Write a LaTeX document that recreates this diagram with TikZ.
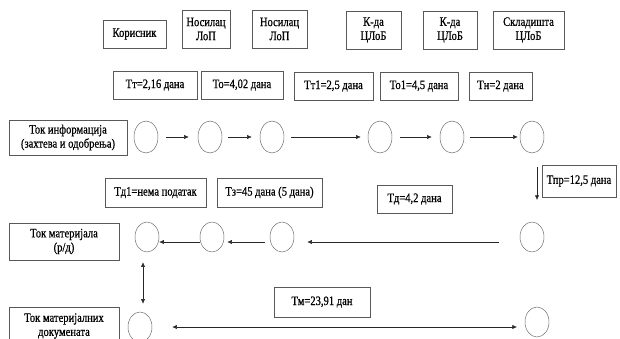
\documentclass[tikz,border=0pt]{standalone}
\usepackage{fontspec}
\setmainfont{Liberation Serif}[FakeStretch=0.82,FakeBold=0.6]
\usetikzlibrary{shapes.geometric,arrows.meta}

\begin{document}
\begin{tikzpicture}[x=0.03cm,y=-0.03cm,
  every node/.style={align=center,font=\fontsize{11}{12}\selectfont},
  box/.style={draw=black!65,inner sep=1pt},
  ring/.style={draw=black!60,ellipse,minimum width=0.72cm,minimum height=0.9cm,inner sep=0pt},
  flow/.style={-{Latex[length=4pt,width=3.5pt]},black!85},
  both/.style={{Latex[length=4pt,width=3.5pt]}-{Latex[length=4pt,width=3.5pt]},black!85}]
  \useasboundingbox (0,0) rectangle (620,338);
  % actors
  \node[box,minimum width=1.89cm,minimum height=0.84cm] (korisnik) at (134.5,34) {Корисник};
  \node[box,minimum width=1.44cm,minimum height=1.14cm] (nosilac1) at (206,29) {Носилац\\ЛоП};
  \node[box,minimum width=1.65cm,minimum height=1.14cm] (nosilac2) at (279.5,29) {Носилац\\ЛоП};
  \node[box,minimum width=1.65cm,minimum height=1.14cm] (komanda1) at (373.5,30) {К-да\\ЦЛоБ};
  \node[box,minimum width=1.62cm,minimum height=1.14cm] (komanda2) at (450,30) {К-да\\ЦЛоБ};
  \node[box,minimum width=2.13cm,minimum height=1.14cm] (skladiste) at (528.5,30) {Складишта\\ЦЛоБ};
  % times
  \node[box,minimum width=2.52cm,minimum height=0.84cm] (tt) at (155,85) {Тт=2,16 дана};
  \node[box,minimum width=2.46cm,minimum height=0.84cm] (to) at (242,85) {То=4,02 дана};
  \node[box,minimum width=2.37cm,minimum height=0.84cm] (tt1) at (333.5,86) {Тт1=2,5 дана};
  \node[box,minimum width=2.34cm,minimum height=0.84cm] (to1) at (419,86) {То1=4,5 дана};
  \node[box,minimum width=1.89cm,minimum height=0.84cm] (tn) at (500.5,86) {Тн=2 дана};
  % information flow
  \node[box,minimum width=3.54cm,minimum height=1.05cm] (info) at (68,137.5) {Ток информација\\(захтева и одобрења)};
  \foreach \n/\x in {1/146,2/210,3/272,4/380,5/452,6/532}
    \node[ring,minimum height=0.96cm] (i\n) at (\x,137) {};
  \draw[flow,shorten <=0.24cm,shorten >=0.27cm] (i1) -- (i2);
  \draw[flow,shorten <=0.18cm,shorten >=0.24cm] (i2) -- (i3);
  \draw[flow,shorten <=0.21cm,shorten >=0.21cm] (i3) -- (i4);
  \draw[flow,shorten <=0.24cm,shorten >=0.24cm] (i4) -- (i5);
  \draw[flow,shorten <=0.18cm,shorten >=0.06cm] (i5) -- (i6);
  \node[box,minimum width=3.03cm,minimum height=0.87cm] (td1) at (155.5,192.5) {Тд1=нема податак};
  \node[box,minimum width=3.15cm,minimum height=0.87cm] (tz) at (269.5,192.5) {Тз=45 дана (5 дана)};
  \node[box,minimum width=2.25cm,minimum height=0.84cm] (td) at (414.5,199) {Тд=4,2 дана};
  \node[box,minimum width=2.22cm,minimum height=0.96cm] (tpr) at (579,181) {Тпр=12,5 дана};
  \coordinate (down1) at (537,167);
  \coordinate (down2) at (537,200);
  \draw[flow] (down1) -- (down2);
  % material flow
  \node[box,minimum width=3.3cm,minimum height=1.11cm] (mat) at (64,241.5) {Ток материјала\\(р/д)};
  \foreach \n/\x in {1/147,2/212,3/282,4/532}
    \node[ring] (m\n) at (\x,237) {};
  \draw[flow] ([yshift=-0.15cm]m2.west) -- ([yshift=-0.15cm]m1.east);
  \draw[flow,shorten <=0.15cm,shorten >=0.09cm] ([yshift=-0.15cm]m3.west) -- ([yshift=-0.15cm]m2.east);
  \draw[flow,shorten <=0.63cm,shorten >=0.39cm] ([yshift=-0.15cm]m4.west) -- ([yshift=-0.15cm]m3.east);
  % documents
  \node[box,minimum width=3.3cm,minimum height=1.14cm] (doc) at (64,326) {Ток материјалних\\докумената};
  \node[ring] (d1) at (140,327) {};
  \node[ring] (d2) at (537,322) {};
  \draw[both,shorten <=0.3cm,shorten >=0.24cm] ([xshift=-0.12cm]m1.south) -- ([xshift=-0.12cm]m1.south |- d1.north);
  \draw[both,shorten <=0.6cm,shorten >=0.6cm] (d1) -- (d1 -| d2);
  \node[box,minimum width=2.88cm,minimum height=0.9cm] (tm) at (322,302) {Тм=23,91 дан};
\end{tikzpicture}
\end{document}
